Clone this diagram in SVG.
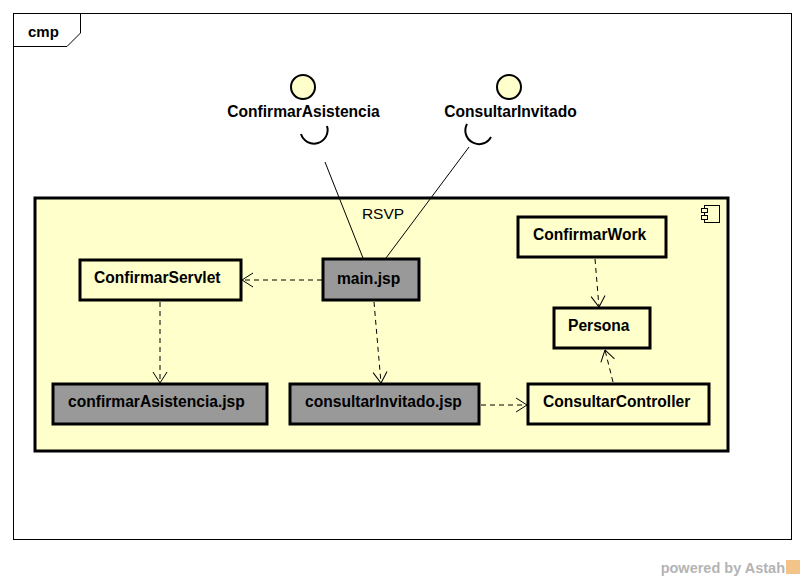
<svg xmlns="http://www.w3.org/2000/svg" width="805" height="580" viewBox="0 0 805 580">
<style>
text{font-family:"Liberation Sans",Arial,sans-serif;fill:#000}
.b{font-weight:bold;font-size:15.6px}
.node{fill:#FFFFCC;stroke:#000;stroke-width:3}
.gray{fill:#999999;stroke:#000;stroke-width:3}
.dep{fill:none;stroke:#000;stroke-width:1;stroke-dasharray:5,4;marker-end:url(#arr)}
.ln{fill:none;stroke:#000;stroke-width:1}
</style>
<defs>
<marker id="arr" viewBox="0 0 12 16" refX="11.5" refY="8" markerWidth="12" markerHeight="16" orient="auto" markerUnits="userSpaceOnUse">
<path d="M0.5,1 L11.5,8 L0.5,15" fill="none" stroke="#000" stroke-width="1" stroke-dasharray="none"/>
</marker>
</defs>
<rect width="805" height="580" fill="#fff"/>
<g id="frame">
<rect x="13.5" y="13.5" width="778" height="526" fill="#fff" stroke="#000" stroke-width="1"/>
<path d="M13.5,46.5 L67,46.5 L80.5,33 L80.5,13.5" fill="none" stroke="#000" stroke-width="1"/>
<text x="28" y="37" style="font-weight:bold;font-size:15px">cmp</text>
</g>
<g id="RSVP">
<rect x="35" y="198" width="693" height="253" class="node"/>
<text x="383" y="219" text-anchor="middle" style="font-size:15.5px">RSVP</text>
<g fill="#FFFFCC" stroke="#000" stroke-width="1">
<rect x="704.5" y="205.5" width="15" height="17"/>
<rect x="701.5" y="208.5" width="6" height="4"/>
<rect x="701.5" y="215.5" width="6" height="4"/>
</g>
</g>
<g id="ConfirmarAsistencia">
<circle cx="303" cy="87" r="12" fill="#FFFFCC" stroke="#000" stroke-width="2"/>
<text x="303.5" y="117" text-anchor="middle" class="b">ConfirmarAsistencia</text>
<path d="M327,126 A13,13 0 0 1 301,134" fill="none" stroke="#000" stroke-width="2"/>
</g>
<g id="ConsultarInvitado">
<circle cx="509" cy="87" r="12" fill="#FFFFCC" stroke="#000" stroke-width="2"/>
<text x="510.5" y="117" text-anchor="middle" class="b">ConsultarInvitado</text>
<path d="M467,124 A13,13 0 0 0 491,137" fill="none" stroke="#000" stroke-width="2"/>
</g>
<g id="ConfirmarServlet">
<rect x="80" y="260" width="161" height="40" class="node"/>
<text x="94" y="283" class="b">ConfirmarServlet</text>
</g>
<g id="main.jsp">
<rect x="323" y="259" width="96" height="41" class="gray"/>
<text x="337" y="284" class="b">main.jsp</text>
</g>
<g id="confirmarAsistencia.jsp">
<rect x="53" y="384" width="214" height="40" class="gray"/>
<text x="68" y="407" class="b">confirmarAsistencia.jsp</text>
</g>
<g id="consultarInvitado.jsp">
<rect x="290" y="384" width="189" height="40" class="gray"/>
<text x="305" y="407" class="b">consultarInvitado.jsp</text>
</g>
<g id="ConsultarController">
<rect x="528" y="384" width="181" height="40" class="node"/>
<text x="543" y="407" class="b">ConsultarController</text>
</g>
<g id="Persona">
<rect x="554" y="308" width="96" height="40" class="node"/>
<text x="568" y="331" class="b">Persona</text>
</g>
<g id="ConfirmarWork">
<rect x="518" y="217" width="148" height="40" class="node"/>
<text x="533" y="240" class="b">ConfirmarWork</text>
</g>
<g id="connectors">
<line x1="325" y1="162" x2="363" y2="258" class="ln"/>
<line x1="469" y1="147" x2="386" y2="258" class="ln"/>
<line x1="322" y1="280" x2="242" y2="280" class="dep"/>
<line x1="160" y1="302" x2="160" y2="383" class="dep"/>
<line x1="374" y1="302" x2="381" y2="383" class="dep"/>
<line x1="481" y1="405" x2="527" y2="405" class="dep"/>
<line x1="595" y1="259" x2="599" y2="307" class="dep"/>
<line x1="613" y1="382" x2="605" y2="350" class="dep"/>
</g>
<g id="watermark">
<text x="785" y="573" text-anchor="end" style="font-weight:bold;font-size:14.5px;fill:#b4b4b4">powered by Astah</text>
<rect x="786" y="560" width="14" height="14" fill="#f2c48a"/>
</g>
</svg>
